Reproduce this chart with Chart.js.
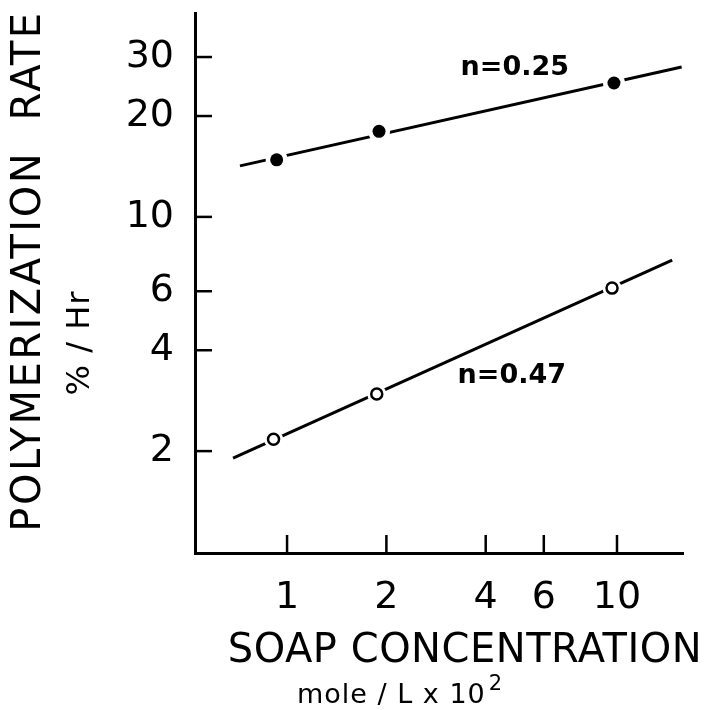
<!DOCTYPE html>
<html><head><meta charset="utf-8">
<script src="https://cdn.jsdelivr.net/npm/chart.js@4"></script>
<style>html,body{margin:0;padding:0;background:#fff}#w{width:710px;height:710px}</style>
</head><body><div id="w"><canvas id="c"></canvas></div>
<script>
// ---- data ----
const xTickValues = [1, 2, 4, 6, 10];
const yTickValues = [2, 4, 6, 10, 20, 30];
const filledX = [0.93, 1.90, 9.79];
const filledY = [14.8, 18.0, 25.1];
const openX = [0.91, 1.87, 9.66];
const openY = [2.17, 2.96, 6.13];
const fitFilledX = [0.72, 15.7];
const fitFilledY = [14.2, 28.0];
const fitOpenX = [0.686, 14.7];
const fitOpenY = [1.905, 7.43];
const seriesLabels = ['n=0.25', 'n=0.47'];
const xTitle = 'SOAP CONCENTRATION';
const xUnit = 'mole / L x 10';
const xUnitSup = '2';
const yTitle = 'POLYMERIZATION  RATE';
const yUnit = '% / Hr';

const pts = (xs, ys) => xs.map((x, i) => ({x: x, y: ys[i]}));
const FONT = '"DejaVu Sans", sans-serif';

const extras = {
  id: 'extras',
  afterDraw(chart) {
    const ctx = chart.ctx, xs = chart.scales.x, ys = chart.scales.y;
    const ca = chart.chartArea;
    ctx.save();
    ctx.strokeStyle = '#000'; ctx.lineWidth = 2.5; ctx.lineCap = 'butt';
    // inward tick marks
    xTickValues.forEach(v => {
      const px = xs.getPixelForValue(v);
      ctx.beginPath(); ctx.moveTo(px, ca.bottom); ctx.lineTo(px, ca.bottom - 18); ctx.stroke();
    });
    yTickValues.forEach(v => {
      const py = ys.getPixelForValue(v);
      ctx.beginPath(); ctx.moveTo(ca.left, py); ctx.lineTo(ca.left + 17, py); ctx.stroke();
    });
    ctx.fillStyle = '#000';
    // series annotations
    ctx.font = 'bold 27px ' + FONT;
    ctx.textAlign = 'center'; ctx.textBaseline = 'middle';
    ctx.fillText(seriesLabels[0], xs.getPixelForValue(4.9), ys.getPixelForValue(27.8));
    ctx.fillText(seriesLabels[1], xs.getPixelForValue(4.8), ys.getPixelForValue(3.35));
    // x title
    ctx.font = '40px ' + FONT;
    ctx.textBaseline = 'alphabetic';
    ctx.letterSpacing = '0.5px';
    ctx.fillText(xTitle, 465, 662);
    ctx.font = '27px ' + FONT;
    ctx.letterSpacing = '1px';
    ctx.textAlign = 'left';
    ctx.fillText(xUnit, 297, 703);
    const w = ctx.measureText(xUnit).width;
    ctx.font = '21px ' + FONT;
    ctx.fillText(xUnitSup, 297 + w + 3, 690);
    // y title
    ctx.translate(30, 271);
    ctx.rotate(-Math.PI / 2);
    ctx.textAlign = 'center'; ctx.textBaseline = 'middle';
    ctx.font = '40px ' + FONT;
    ctx.letterSpacing = '2.5px';
    ctx.fillText(yTitle, 0, 0);
    ctx.font = '32px ' + FONT;
    ctx.letterSpacing = '1px';
    ctx.fillText(yUnit, -72, 51);
    ctx.restore();
  }
};

new Chart(document.getElementById('c'), {
  type: 'scatter',
  data: {
    datasets: [
      {data: pts(fitFilledX, fitFilledY), showLine: true, borderColor: '#000', borderWidth: 3, pointRadius: 0, order: 3},
      {data: pts(fitOpenX, fitOpenY), showLine: true, borderColor: '#000', borderWidth: 3, pointRadius: 0, order: 3},
      {data: pts(filledX, filledY), pointRadius: 11, pointBackgroundColor: '#fff', pointBorderWidth: 0, pointBorderColor: '#fff', order: 2},
      {data: pts(openX, openY), pointRadius: 9.5, pointBackgroundColor: '#fff', pointBorderWidth: 0, pointBorderColor: '#fff', order: 2},
      {data: pts(filledX, filledY), pointRadius: 6.5, pointBackgroundColor: '#000', pointBorderWidth: 0, pointBorderColor: '#000', order: 1},
      {data: pts(openX, openY), pointRadius: 5.5, pointBackgroundColor: '#fff', pointBorderWidth: 2.5, pointBorderColor: '#000', order: 1}
    ]
  },
  options: {
    responsive: true, maintainAspectRatio: false, animation: false,
    layout: {padding: {top: 13, right: 27, left: 0, bottom: 0}},
    plugins: {legend: {display: false}, tooltip: {enabled: false}},
    scales: {
      x: {
        type: 'logarithmic', min: 0.526, max: 15.85,
        grid: {display: false, drawTicks: false},
        border: {display: true, color: '#000', width: 3},
        afterBuildTicks: s => { s.ticks = xTickValues.map(v => ({value: v})); },
        afterFit: s => { s.height = 157; s.paddingLeft = 0; s.paddingRight = 0; },
        ticks: {color: '#000', font: {family: FONT, size: 38}, padding: 22, autoSkip: false, maxRotation: 0,
                callback: v => String(v)}
      },
      y: {
        type: 'logarithmic', min: 0.993, max: 40.6,
        grid: {display: false, drawTicks: false},
        border: {display: true, color: '#000', width: 3},
        afterBuildTicks: s => { s.ticks = yTickValues.map(v => ({value: v})); },
        afterFit: s => { s.width = 195; s.paddingTop = 0; s.paddingBottom = 0; },
        ticks: {color: '#000', font: {family: FONT, size: 38}, padding: 21, autoSkip: false,
                callback: v => String(v)}
      }
    }
  },
  plugins: [extras]
});
</script>
</body></html>
